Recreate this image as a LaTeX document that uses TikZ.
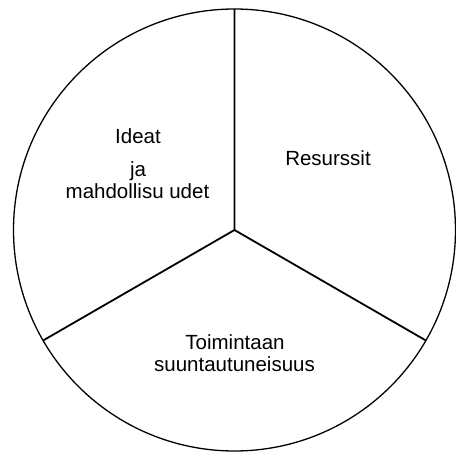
\documentclass[tikz,border=0pt]{standalone}
\usepackage{fontspec}
\setmainfont{Liberation Sans}
\usetikzlibrary{calc}
\begin{document}
\begin{tikzpicture}[x=1pt,y=-1pt,
  lbl/.style={anchor=base,inner sep=0pt,font=\fontsize{20.5}{21}\selectfont},
  rim/.style={line width=1.3pt},
  spoke/.style={line width=1.8pt}]
\useasboundingbox (0,0) rectangle (456,452);
\coordinate (c) at (234.5,230);
\draw[rim] (c) circle[radius=221];
\coordinate (top) at ($(c)+(0,-221)$);
\coordinate (bl) at ($(c)+(-191.4,110.5)$);
\coordinate (br) at ($(c)+(191.4,110.5)$);
\draw[spoke,line join=miter] (top) -- (c) -- (bl);
\draw[spoke] (c) -- (br);
\node[lbl] (ideat) at (138,144) {Ideat};
\node[lbl] (ja) at (138,176) {ja};
\node[lbl] (mahd) at (137.5,199) {mahdollisu udet};
\node[lbl] (res) at (328,166) {Resurssit};
\node[lbl] (toim) at (235,349) {Toimintaan};
\node[lbl] (suun) at (234.5,371) {suuntautuneisuus};
\end{tikzpicture}
\end{document}
